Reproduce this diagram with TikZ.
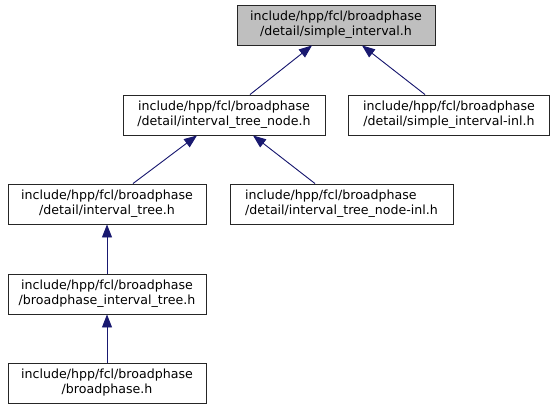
\documentclass[tikz,border=0pt]{standalone}
\usepackage{fontspec}
\setmainfont{DejaVu Sans}
\usetikzlibrary{arrows.meta}
\definecolor{edgeblue}{RGB}{25,25,112}
\definecolor{topgray}{RGB}{191,191,191}

\begin{document}
\begin{tikzpicture}[
    x=1pt, y=-1pt,
    file/.style={rectangle, draw=black!85, fill=white, line width=0.9pt, minimum height=40pt, inner sep=2pt, align=center, font=\fontsize{12.6}{15}\selectfont},
    topfile/.style={file, fill=topgray},
    edge/.style={-{Triangle[length=13pt, width=10pt]}, draw=edgeblue, fill=edgeblue, line width=0.9pt}
]
\useasboundingbox (0,0) rectangle (556,409);

% Row 1: the header itself
\node[topfile, minimum width=198pt] (simple) at (336,25) {include/hpp/fcl/broadphase\\/detail/simple\_interval.h};

% Row 2: files that include it
\node[file, minimum width=202pt] (treenode) at (224,115) {include/hpp/fcl/broadphase\\/detail/interval\_tree\_node.h};
\node[file, minimum width=201pt] (simpleinl) at (449,115) {include/hpp/fcl/broadphase\\/detail/simple\_interval-inl.h};

% Row 3
\node[file, minimum width=198pt] (tree) at (107,204) {include/hpp/fcl/broadphase\\/detail/interval\_tree.h};
\node[file, minimum width=223pt, align=left] (treenodeinl) at (341.5,204) {include/hpp/fcl/broadphase\\/detail/interval\_tree\_node-inl.h};

% Rows 4 and 5
\node[file, minimum width=198pt] (bptree) at (107,294) {include/hpp/fcl/broadphase\\/broadphase\_interval\_tree.h};
\node[file, minimum width=198pt] (bp) at (107,383) {include/hpp/fcl/broadphase\\/broadphase.h};

% Arrows - include relations
\draw[edge] ([xshift=26pt]treenode.north) -- ([xshift=-24pt]simple.south);
\draw[edge] ([xshift=-24pt]simpleinl.north) -- ([xshift=26pt]simple.south);
\draw[edge] ([xshift=26pt]tree.north) -- ([xshift=-27pt]treenode.south);
\draw[edge] ([xshift=-26.5pt]treenodeinl.north) -- ([xshift=29pt]treenode.south);
\draw[edge] (bptree) -- (tree);
\draw[edge] (bp) -- (bptree);

\end{tikzpicture}
\end{document}
